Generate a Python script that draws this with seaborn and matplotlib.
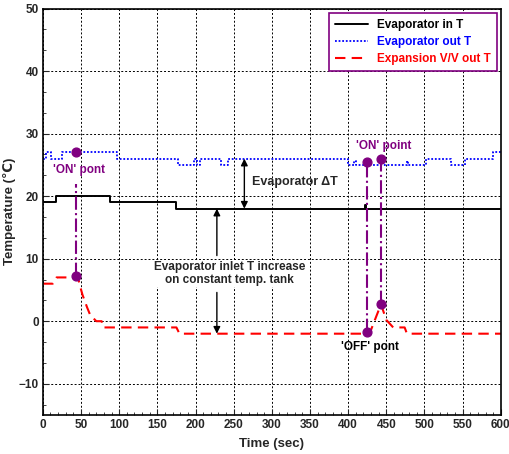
import numpy as np
import pandas as pd
import seaborn as sns
import matplotlib.pyplot as plt
from matplotlib.ticker import MultipleLocator

# Evaporator inlet temperature (step data)
time_in = [0, 17, 88, 175, 422, 424, 600]
temp_in = [19, 20, 19, 18, 18.6, 18, 18]

# Evaporator outlet temperature (step data)
time_out = [0, 4, 11, 25, 97, 177, 198, 202, 206, 234, 243, 400, 408, 410,
            477, 479, 502, 535, 553, 590, 600]
temp_out = [26, 27, 26, 27, 26, 25, 26, 25, 26, 25, 26, 25, 25.6, 25,
            25.6, 25, 26, 25, 26, 27, 27]

# Expansion valve outlet temperature
time_exp = [0, 13, 18, 46, 49, 52, 58, 62, 66, 70, 77, 79, 175, 179,
            428, 443, 450, 459, 474, 477, 600]
temp_exp = [6, 6, 7, 7, 5.5, 4.2, 2.2, 1.0, 0.5, 0, 0, -1, -1, -2,
            -2, 2.7, 0.2, -1, -1, -2, -2]

# marked points: (time, upper temp, lower temp)
mark_t = [43, 425, 443]
mark_hi = [27, 25.4, 25.9]
mark_lo = [7.3, -1.8, 2.7]
# top end of the dash-dot guide lines
guide_hi = [22, 25.4, 25.9]

purple = '#800080'

sns.set_style('ticks')
plt.rcParams['font.family'] = ['Liberation Sans', 'DejaVu Sans']
plt.rcParams['font.weight'] = 'bold'

fig, ax = plt.subplots(figsize=(5.1, 4.54), dpi=100)
fig.subplots_adjust(left=0.084, right=0.982, top=0.981, bottom=0.086)

df_in = pd.DataFrame({'t': time_in, 'T': temp_in})
df_out = pd.DataFrame({'t': time_out, 'T': temp_out})
df_exp = pd.DataFrame({'t': time_exp, 'T': temp_exp})

sns.lineplot(data=df_in, x='t', y='T', ax=ax, color='black', lw=1.4,
             drawstyle='steps-post', estimator=None, label='Evaporator in T')
sns.lineplot(data=df_out, x='t', y='T', ax=ax, color='blue', lw=1.3,
             linestyle=(0, (1, 1)), drawstyle='steps-post', estimator=None,
             label='Evaporator out T')
sns.lineplot(data=df_exp, x='t', y='T', ax=ax, color='red', lw=1.5,
             linestyle=(0, (5, 3)), estimator=None,
             label='Expansion V/V out T')

for t, hi, lo in zip(mark_t, guide_hi, mark_lo):
    ax.plot([t, t], [lo, hi], color=purple, lw=1.5, linestyle='-.', zorder=4)
ax.scatter(mark_t + mark_t, mark_hi + mark_lo, s=40, color=purple, zorder=5)

ax.set_xlim(0, 600)
ax.set_ylim(-15, 50)
ax.xaxis.set_major_locator(MultipleLocator(50))
ax.xaxis.set_minor_locator(MultipleLocator(10))
ax.yaxis.set_major_locator(MultipleLocator(10))
ax.yaxis.set_minor_locator(MultipleLocator(10 / 3))
ax.tick_params(which='both', direction='in', labelsize=8.5, pad=3)
ax.tick_params(which='major', length=4)
ax.tick_params(which='minor', length=2.5)
ax.grid(True, which='major', color='black', linestyle=(0, (2, 2)), lw=0.7)
for sp in ax.spines.values():
    sp.set_color('black')
    sp.set_linewidth(1.2)

ax.set_xlabel('Time (sec)', fontsize=9.5, fontweight='bold', labelpad=5)
ax.set_ylabel('Temperature (\u2103)', fontsize=9.5, fontweight='bold', labelpad=2)

# annotations
ax.annotate('', xy=(264, 26), xytext=(264, 18),
            arrowprops=dict(arrowstyle='<|-|>', color='black', lw=1, mutation_scale=10,
                            shrinkA=0, shrinkB=0))
ax.text(274, 22.2, 'Evaporator \u0394T', fontsize=9, fontweight='bold', va='center')
ax.annotate('', xy=(228, 18), xytext=(228, 10.5),
            arrowprops=dict(arrowstyle='-|>', color='black', lw=1, mutation_scale=10,
                            shrinkA=0, shrinkB=0))
ax.annotate('', xy=(228, -2), xytext=(228, 4.6),
            arrowprops=dict(arrowstyle='-|>', color='black', lw=1, mutation_scale=10,
                            shrinkA=0, shrinkB=0))
ax.text(245, 7.6, 'Evaporator inlet T increase\non constant temp. tank',
        fontsize=8.5, fontweight='bold', ha='center', va='center',
        linespacing=1.05, bbox=dict(facecolor='white', edgecolor='none', pad=1))
ax.text(47, 24.2, "'ON' pont", color=purple, fontsize=8.5, fontweight='bold',
        ha='center', va='center')
ax.text(447, 28.1, "'ON' point", color=purple, fontsize=8.5, fontweight='bold',
        ha='center', va='center')
ax.text(428, -4.2, "'OFF' pont", color='black', fontsize=8.5, fontweight='bold',
        ha='center', va='center')

leg = ax.legend(loc='upper right', fontsize=8.5, frameon=True, fancybox=False,
                labelcolor='linecolor', handlelength=2.8, borderaxespad=0.35,
                borderpad=0.5, labelspacing=0.45)
leg.get_frame().set_edgecolor(purple)
leg.get_frame().set_linewidth(1.2)
leg.get_frame().set_alpha(1)

fig.savefig('out.png', dpi=100)
